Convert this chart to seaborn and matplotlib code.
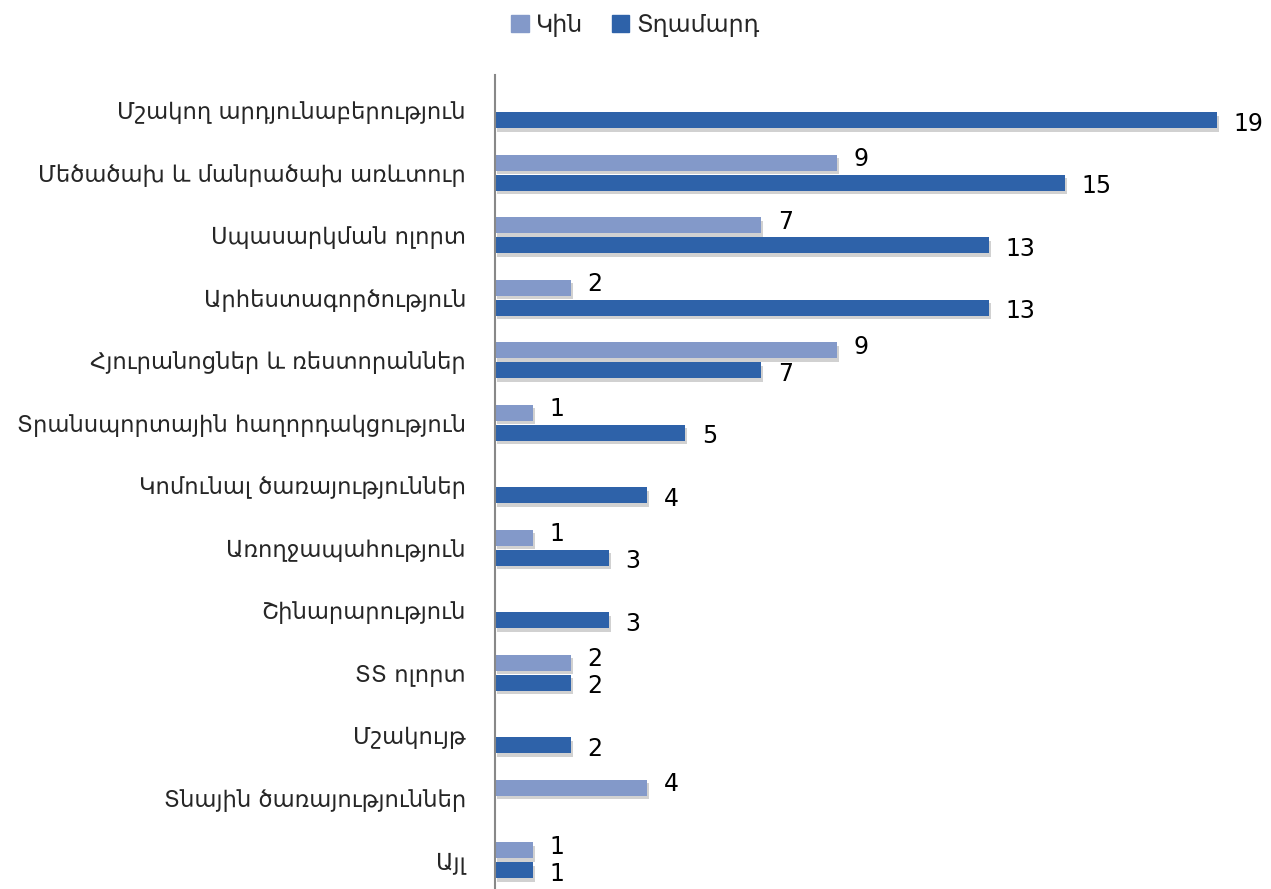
import matplotlib
matplotlib.use("Agg")
import matplotlib.pyplot as plt
import matplotlib.patheffects as pe
import numpy as np
import pandas as pd
import seaborn as sns


CATEGORIES = [
    "Մշակող արդյունաբերություն",
    "Մեծածախ և մանրածախ առևտուր",
    "Սպասարկման ոլորտ",
    "Արհեստագործություն",
    "Հյուրանոցներ և ռեստորաններ",
    "Տրանսպորտային հաղորդակցություն",
    "Կոմունալ ծառայություններ",
    "Առողջապահություն",
    "Շինարարություն",
    "ՏՏ ոլորտ",
    "Մշակույթ",
    "Տնային ծառայություններ",
    "Այլ",
]
WOMEN = [np.nan, 9, 7, 2, 9, 1, np.nan, 1, np.nan, 2, np.nan, 4, 1]
MEN = [19, 15, 13, 13, 7, 5, 4, 3, 3, 2, 2, np.nan, 1]
SERIES = ["Կին", "Տղամարդ"]
COLORS = {"Կին": "#8399C9", "Տղամարդ": "#2E62A9"}


def main() -> None:
    df = pd.DataFrame({"category": CATEGORIES, SERIES[0]: WOMEN, SERIES[1]: MEN})
    long = df.melt(id_vars="category", var_name="sex", value_name="count").dropna()

    sns.set_theme(style="white")
    plt.rcParams["font.family"] = ["DejaVu Sans"]

    fig = plt.figure(figsize=(12.71, 8.89), dpi=100)
    ax = fig.add_axes([0.3895, 0.0, 0.598, 0.9156])

    sns.barplot(
        data=long, y="category", x="count", hue="sex",
        order=CATEGORIES, hue_order=SERIES, palette=COLORS,
        orient="h", width=0.64, gap=0.2, ax=ax, saturation=1,
        edgecolor="none", linewidth=0,
    )

    shadow = [pe.SimplePatchShadow(offset=(1.5, -2.5), shadow_rgbFace="#999999", alpha=0.45), pe.Normal()]
    for patch in ax.patches:
        patch.set_path_effects(shadow)

    # women's labels sit a little high, men's a little low, as in the source
    for container, dy in zip(ax.containers, [2.5, -2.5]):
        anns = ax.bar_label(container, labels=[f"{v:.0f}" for v in container.datavalues],
                            padding=12, fontsize=17, color="black")
        for ann in anns:
            ann.xyann = (12, dy)

    ax.set_xlim(0, 20)
    ax.set_ylim(12.46, -0.56)
    ax.set_xlabel("")
    ax.set_ylabel("")
    ax.set_xticks([])
    ax.tick_params(axis="y", length=0, pad=21, labelsize=16.3)
    for side in ["top", "right", "bottom"]:
        ax.spines[side].set_visible(False)
    ax.spines["left"].set_color("#888888")
    ax.spines["left"].set_linewidth(1.5)

    ax.legend_.remove()
    handles = [plt.Rectangle((0, 0), 1, 1, color=COLORS[s]) for s in SERIES]
    fig.legend(handles, SERIES, loc="center", bbox_to_anchor=(0.5, 0.972), ncol=2,
               frameon=False, fontsize=17, handlelength=0.75, handleheight=0.75,
               handletextpad=0.3, columnspacing=1.2)

    fig.savefig("out.png", dpi=100)
    plt.close(fig)


if __name__ == "__main__":
    main()
